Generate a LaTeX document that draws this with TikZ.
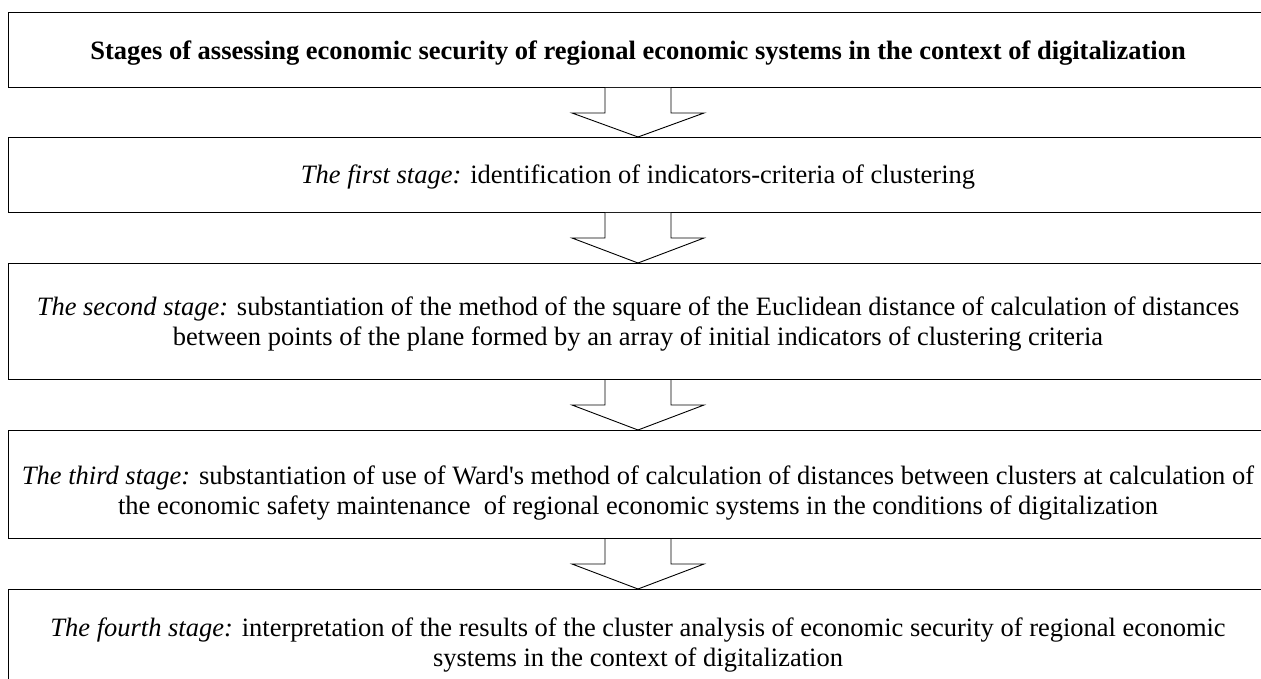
\documentclass[tikz,border=0pt]{standalone}
\usepackage{fontspec}
\setmainfont{Liberation Serif}
\usetikzlibrary{calc}
\tikzset{
  stagebox/.style={draw, line width=1pt, rectangle, minimum width=1260pt, inner sep=0pt, anchor=north},
  stagetext/.style={align=center, inner sep=0pt, font=\fontsize{26.5}{30}\selectfont},
  flowarrow/.style={draw, line width=0.9pt, fill=white}
}
\newcommand{\blockarrow}[2]{%
  \draw[flowarrow] ($(#1.south)+(-33,0)$) -- ++(0,25) -- ++(-33,0) -- (#2.north)
    -- ($(#1.south)+(66,25)$) -- ++(-33,0) -- ($(#1.south)+(33,0)$);}
\begin{document}
\begin{tikzpicture}[x=1pt,y=-1pt]
\useasboundingbox (0,0) rectangle (1261,679);
\node[stagebox, minimum height=75pt] (b1) at (638,12) {};
\node[stagebox, minimum height=75pt] (b2) at (638,137) {};
\node[stagebox, minimum height=116pt] (b3) at (638,263) {};
\node[stagebox, minimum height=108pt] (b4) at (638,430) {};
\node[stagebox, minimum height=120pt] (b5) at (638,589) {};
\node[stagetext, font=\fontsize{26.5}{30}\selectfont\bfseries] (t1) at ($(b1.center)+(0,3)$) {Stages of assessing economic security of regional economic systems in the context of digitalization};
\node[stagetext] (t2) at ($(b2.center)+(0,2.5)$) {\textit{The first stage:} identification of indicators-criteria of clustering};
\node[stagetext] (t3) at ($(b3.center)+(0,2.5)$) {\textit{The second stage:} substantiation of the method of the square of the Euclidean distance of calculation of distances\\between points of the plane formed by an array of initial indicators of clustering criteria};
\node[stagetext] (t4) at ($(b4.center)+(0,8.5)$) {\textit{The third stage:} substantiation of use of Ward\textquotesingle s method of calculation of distances between clusters at calculation of\\the economic safety maintenance\ \ of regional economic systems in the conditions of digitalization};
\node[stagetext] (t5) at ($(b5.north)+(0,56)$) {\textit{The fourth stage:} interpretation of the results of the cluster analysis of economic security of regional economic\\systems in the context of digitalization};
\blockarrow{b1}{b2}
\blockarrow{b2}{b3}
\blockarrow{b3}{b4}
\blockarrow{b4}{b5}
\end{tikzpicture}
\end{document}
